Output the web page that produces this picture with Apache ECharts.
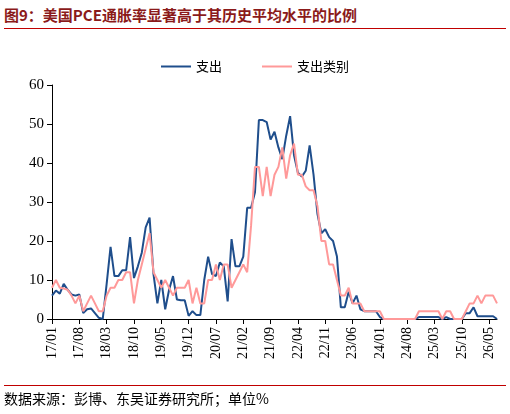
<!DOCTYPE html><html><head><meta charset="utf-8"><script src="https://cdn.jsdelivr.net/npm/echarts@6/dist/echarts.min.js"></script>
<style>body{margin:0;background:#fff}#t{position:absolute;left:4px;top:4px;width:502px;font:bold 15px "Noto Sans CJK SC";color:#8b1a1a;border-bottom:1.5px solid #c00000;padding-bottom:3px}#f{position:absolute;left:4px;top:385px;width:502px;font:14px "Noto Sans CJK SC";color:#000;border-top:1px solid #c00000;padding-top:2px}</style></head><body>
<div id="t">图9：美国PCE通胀率显著高于其历史平均水平的比例</div>
<div id="c" style="width:510px;height:414px"></div>
<div id="f">数据来源：彭博、东吴证券研究所；单位%</div>
<script>
const categories=[];for(let y=2017;y<=2026;y++)for(let m=1;m<=12;m++){if(y===2026&&m>7)break;categories.push(String(y).slice(2)+'/'+String(m).padStart(2,'0'));}
const spending=[6,7.3,6.5,9,7.5,6.3,6,6.3,1.5,2.5,
2.7,1.5,0.3,0,9,18.5,11,11,12.5,12.5,
21,10.5,13.5,17,23.5,26,11.5,4,10,2.5,
7.5,11,5,4.8,4.8,0.8,2,1,1,10,
16,11.5,11,14.5,13.5,4.5,20.5,13.5,13.5,16,
28.5,28.5,32.5,51,51,50.5,46,48,44,41,
47,52,42,37.5,36.5,38,44.5,37,27,22,
23,21,20,16,3,3,7,4,6,2.5,
2,2,2,2,0.5,0,0,0,0,0,
0,0,0,0,0.5,0.5,0.5,0.5,0.5,0.5,
0,0.5,0,0,0,0,1.5,1.5,3,0.7,
0.7,0.7,0.7,0.7,0];
const spendingCat=[8,10,8,7.8,7.5,6,4,6,2,4,
6,4,2,2,6,8,8,10,10,12,
12,4,10,14,18,22,12,10,8,10,
8,6,8,8,8,10,4,8,4,4,
10,10,14,10,14,14,8,10,12,14,
12,24,39,39,31.5,39,31.5,37,39,44,
36,42,45,37,37,34,33,33,29,20,
20,14,14,10,6,6,8,4,4,4,
2,2,2,2,2,0,0,0,0,0,
0,0,0,0,2,2,2,2,2,2,
0,2,2,0,0,0,2,4,4,6,
4,6,6,6,4];
const c=echarts.init(document.getElementById('c'));
c.setOption({animation:false,
legend:{top:55,itemWidth:30,itemHeight:2,itemGap:40,icon:'rect',textStyle:{fontFamily:'Noto Sans CJK SC',fontSize:13,color:'#000'},data:['支出','支出类别']},
grid:{left:52,right:13,top:85,bottom:95},
xAxis:{type:'category',data:categories,boundaryGap:false,axisLine:{lineStyle:{color:'#000'}},axisTick:{interval:6,inside:false,lineStyle:{color:'#000'}},
axisLabel:{interval:6,rotate:90,fontFamily:'Liberation Serif',fontSize:14,color:'#000'}},
yAxis:{type:'value',min:0,max:60,interval:10,splitLine:{show:false},axisLine:{show:true,lineStyle:{color:'#000'}},axisTick:{show:true,lineStyle:{color:'#000'}},axisLabel:{fontFamily:'Liberation Serif',fontSize:15,color:'#000'}},
series:[{name:'支出',type:'line',data:spending,symbol:'none',lineStyle:{width:2,color:'#1f4e8c'},itemStyle:{color:'#1f4e8c'}},
{name:'支出类别',type:'line',data:spendingCat,symbol:'none',lineStyle:{width:2,color:'#ff9999'},itemStyle:{color:'#ff9999'}}]});
</script></body></html>
